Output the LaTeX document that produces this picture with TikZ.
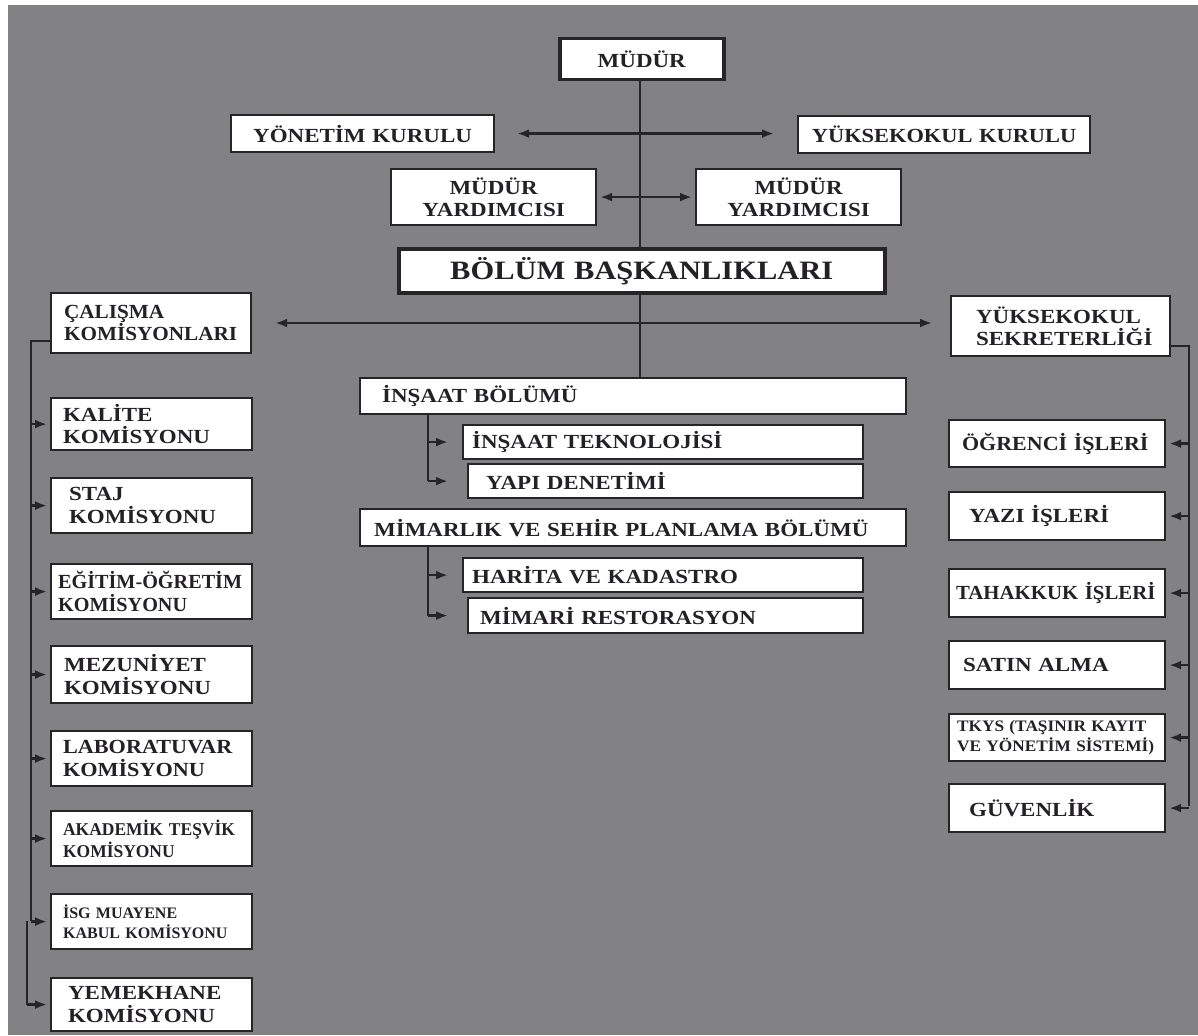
\documentclass[tikz,border=0pt]{standalone}
\usepackage{fontspec}
\setmainfont{Liberation Serif}[FakeStretch=1.15]
\usetikzlibrary{arrows.meta}
\definecolor{bg}{RGB}{130,130,133}
\definecolor{ink}{RGB}{38,36,40}
\definecolor{txt}{RGB}{35,33,38}
\hyphenpenalty=10000
\exhyphenpenalty=10000
\begin{document}
\begin{tikzpicture}[x=1pt,y=-1pt,
  bx/.style={draw=ink, fill=white, line width=2.2pt, anchor=north west, inner ysep=0pt,
    text=txt, font=\bfseries\fontsize{20}{22.5}\selectfont},
  fst/.style n args={3}{font=\bfseries\fontsize{#1}{#3}\selectfont\addfontfeature{FakeStretch=#2}},
  lft/.style={align=left},
  ctr/.style={align=center},
  con/.style={draw=ink, line width=2.4pt},
  tip/.tip={Latex[length=12pt,width=9pt]},
  arr/.style={con, -tip},
  darr/.style={con, tip-tip}]
\useasboundingbox (0,0) rectangle (1198,1035);
\fill[white] (0,0) rectangle (1198,1035);
\fill[bg] (8,5) rectangle (1198,1035);

% top
\node[bx, ctr, line width=3.5pt, minimum width=164pt, minimum height=41pt, inner xsep=4pt, text width=156pt] (mudur) at (558,37) {MÜDÜR};
\node[bx, ctr, minimum width=263pt, minimum height=37pt, inner xsep=4pt, text width=255pt] (yon) at (230,114) {YÖNETİM KURULU};
\node[bx, ctr, minimum width=292pt, minimum height=37pt, inner xsep=4pt, text width=284pt, fst={20}{1.12}{22.5}] (yuk) at (797,115) {YÜKSEKOKUL KURULU};
\node[bx, ctr, minimum width=205pt, minimum height=56pt, inner xsep=4pt, text width=197pt] (my1) at (390,168) {MÜDÜR\\YARDIMCISI};
\node[bx, ctr, minimum width=205pt, minimum height=56pt, inner xsep=4pt, text width=197pt] (my2) at (695,168) {MÜDÜR\\YARDIMCISI};
\node[bx, ctr, line width=3.5pt, minimum width=486pt, minimum height=44pt, inner xsep=4pt, text width=478pt, font=\bfseries\fontsize{26.5}{30}\selectfont] (bol) at (397,247) {BÖLÜM BAŞKANLIKLARI};

% second level
\node[bx, lft, minimum width=200pt, minimum height=60pt, inner xsep=13pt, text width=174pt, fst={20}{1.06}{22.5}] (cal) at (50,292) {ÇALIŞMA\\KOMİSYONLARI};
\node[bx, lft, minimum width=219pt, minimum height=60pt, inner xsep=25pt, text width=169pt] (sek) at (950,295) {YÜKSEKOKUL\\SEKRETERLİĞİ};

% center
\node[bx, lft, minimum width=546pt, minimum height=36pt, inner xsep=22pt, text width=502pt] (ins) at (359,377) {İNŞAAT BÖLÜMÜ};
\node[bx, lft, minimum width=400pt, minimum height=34pt, inner xsep=9pt, text width=382pt] (tek) at (462,424) {İNŞAAT TEKNOLOJİSİ};
\node[bx, lft, minimum width=395pt, minimum height=34pt, inner xsep=18pt, text width=359pt] (yapi) at (467,463) {YAPI DENETİMİ};
\node[bx, lft, minimum width=546pt, minimum height=37pt, inner xsep=14pt, text width=518pt] (mim) at (359,508) {MİMARLIK VE SEHİR PLANLAMA BÖLÜMÜ};
\node[bx, lft, minimum width=400pt, minimum height=34pt, inner xsep=9pt, text width=382pt] (har) at (462,557) {HARİTA VE KADASTRO};
\node[bx, lft, minimum width=395pt, minimum height=35pt, inner xsep=12pt, text width=371pt] (res) at (467,597) {MİMARİ RESTORASYON};

% left column
\node[bx, lft, minimum width=201pt, minimum height=52pt, inner xsep=12pt, text width=177pt] (kal) at (50,397) {KALİTE\\KOMİSYONU};
\node[bx, lft, minimum width=201pt, minimum height=55pt, inner xsep=18pt, text width=165pt] (staj) at (50,477) {STAJ\\KOMİSYONU};
\node[bx, lft, minimum width=201pt, minimum height=55pt, inner xsep=7pt, text width=187pt, fst={20}{1.01}{22.5}] (egit) at (50,563) {EĞİTİM-ÖĞRETİM\\KOMİSYONU};
\node[bx, lft, minimum width=201pt, minimum height=57pt, inner xsep=13pt, text width=175pt] (mez) at (50,645) {MEZUNİYET\\KOMİSYONU};
\node[bx, lft, minimum width=201pt, minimum height=55pt, inner xsep=12pt, text width=177pt, fst={20}{1.11}{22.5}] (lab) at (50,730) {LABORATUVAR\\KOMİSYONU};
\node[bx, lft, minimum width=201pt, minimum height=55pt, inner xsep=12pt, text width=177pt, fst={18}{0.97}{22}] (aka) at (50,810) {AKADEMİK TEŞVİK\\KOMİSYONU};
\node[bx, lft, minimum width=201pt, minimum height=55pt, inner xsep=12pt, text width=177pt, fst={16}{1.0}{19.5}] (isg) at (50,893) {İSG MUAYENE\\KABUL KOMİSYONU};
\node[bx, lft, minimum width=201pt, minimum height=53pt, inner xsep=17pt, text width=167pt] (yem) at (50,977) {YEMEKHANE\\KOMİSYONU};

% right column
\node[bx, lft, minimum width=216pt, minimum height=47pt, inner xsep=13pt, text width=190pt, fst={20}{1.1}{22.5}] (ogr) at (948,419) {ÖĞRENCİ İŞLERİ};
\node[bx, lft, minimum width=216pt, minimum height=48pt, inner xsep=20pt, text width=176pt] (yazi) at (948,491) {YAZI İŞLERİ};
\node[bx, lft, minimum width=216pt, minimum height=48pt, inner xsep=7pt, text width=202pt, fst={20}{1.04}{22.5}] (tah) at (948,568) {TAHAKKUK İŞLERİ};
\node[bx, lft, minimum width=216pt, minimum height=48pt, inner xsep=14pt, text width=188pt] (sat) at (948,640) {SATIN ALMA};
\node[bx, lft, minimum width=216pt, minimum height=47pt, inner xsep=8pt, text width=200pt, fst={16}{1.08}{19.5}] (tkys) at (948,713) {TKYS (TAŞINIR KAYIT\\VE YÖNETİM SİSTEMİ)};
\node[bx, lft, minimum width=216pt, minimum height=48pt, inner xsep=20pt, text width=176pt] (guv) at (948,783) {GÜVENLİK};

% spine
\coordinate (sp) at (640,0);
\draw[con] (mudur.south -| sp) -- (bol.north -| sp);
\draw[con] (bol.south -| sp) -- (ins.north -| sp);

% double arrows
\draw[darr] ([xshift=22pt]yon.east) -- ([xshift=-23pt]yuk.west |- yon.east);
\draw[darr] ([xshift=3pt]my1.east) -- ([xshift=-3pt]my2.west);
\coordinate (hy) at (0,323);
\draw[darr] ([xshift=23pt]cal.east |- hy) -- ([xshift=-18pt]sek.west |- hy);

% left tree
\coordinate (lb1) at (31,921);
\coordinate (lb2) at (27,921);
\draw[con] ([yshift=-18pt]cal.west) -| (lb1);
\draw[con] (lb2) -- (lb2 |- yem.west);
\foreach \n in {kal,staj,egit,mez,lab,aka,isg}
  \draw[arr] (\n.west -| lb1) -- ([xshift=-3pt]\n.west);
\draw[arr] (yem.west -| lb2) -- ([xshift=-3pt]yem.west);

% right tree
\coordinate (rb) at (1189,806);
\draw[con] ([yshift=-20pt]sek.east) -| (rb);
\foreach \n in {ogr,yazi,tah,sat,tkys,guv}
  \draw[arr] (\n.east -| rb) -- ([xshift=3pt]\n.east);

% center sub trees
\coordinate (cx) at (428,0);
\draw[con] (ins.south -| cx) -- (cx |- yapi.west);
\draw[arr] (cx |- tek.west) -- ([xshift=-14pt]tek.west);
\draw[arr] (cx |- yapi.west) -- ([xshift=-19pt]yapi.west);
\draw[con] (mim.south -| cx) -- (cx |- res.west);
\draw[arr] (cx |- har.west) -- ([xshift=-14pt]har.west);
\draw[arr] (cx |- res.west) -- ([xshift=-19pt]res.west);
\end{tikzpicture}
\end{document}
